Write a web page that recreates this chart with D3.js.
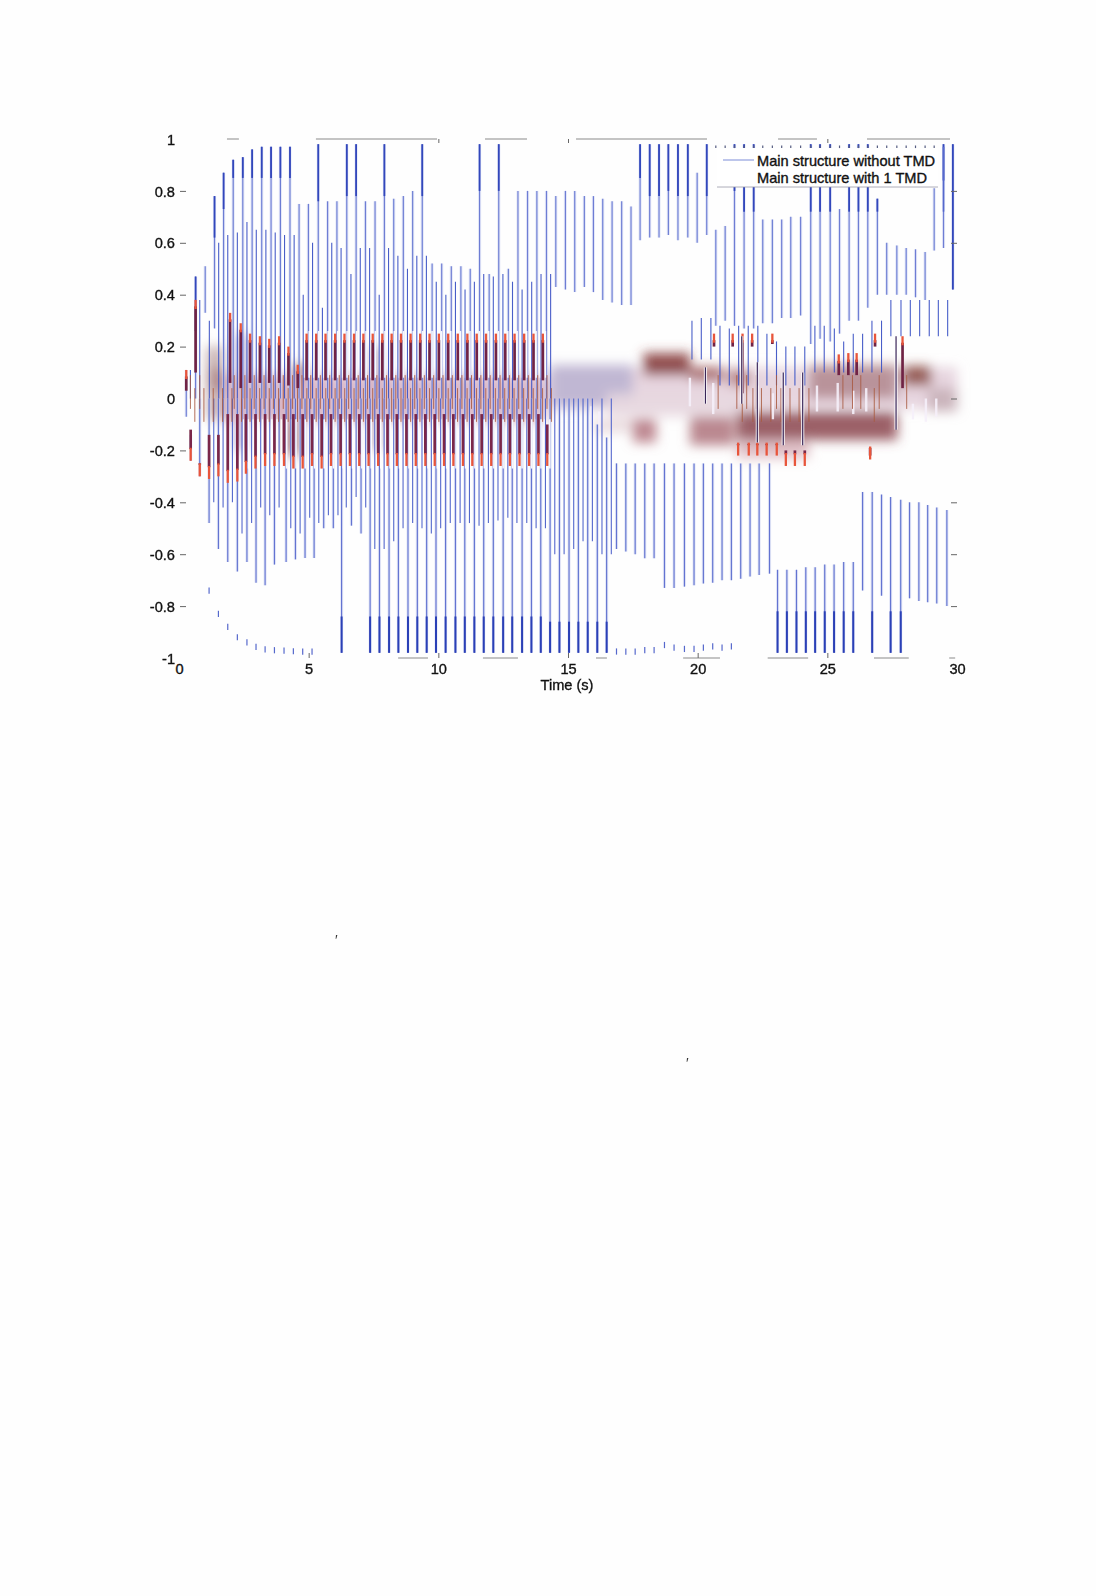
<!DOCTYPE html>
<html><head><meta charset="utf-8">
<script src="https://d3js.org/d3.v7.min.js"></script>
<style>html,body{margin:0;padding:0;background:#fefefe}svg{display:block}</style>
</head><body><svg id="c" width="1096" height="1596"></svg>
<script>
const peakTimes=[.28,.64,1.01,1.37,1.72,2.09,2.46,2.82,3.19,3.55,3.91,4.28,
4.63,4.99,5.37,5.73,6.09,6.47,6.83,7.19,7.56,7.92,8.28,8.65,9.01,9.38,
9.76,10.13,10.5,10.87,11.23,11.59,11.96,12.33,12.7,13.07,13.44,13.8,14.17,
14.53,14.9,15.26,15.63,15.98,16.34,16.7,17.07,17.43,
17.78,18.15,18.51,18.87,19.24,19.62,19.98,20.35,
20.7,21.06,21.42,21.79,22.16,
22.51,22.88,23.24,23.59,23.97,
24.36,24.72,25.11,25.47,25.84,26.2,26.56,26.93,
27.29,27.68,28.04,28.4,28.77,
29.12,29.48,29.84];
const peakHi=[.11,.47,.51,.78,.87,.92,.93,.96,.97,.97,.97,.97,
.75,.75,.98,.76,.76,.98,.98,.76,.76,.98,.77,.78,.8,.98,
.52,.52,.51,.51,.5,.98,.48,.98,.5,.8,.8,.8,.8,
.78,.8,.8,.78,.78,.77,.76,.76,.74,
.98,.98,.98,.98,.98,.98,.87,.98,
.65,.665,.98,.98,.98,
.69,.69,.69,.7,.7,
.98,.98,.98,.73,.98,.98,.98,.77,
.6,.59,.58,.575,.565,
.81,.98,.98];
const peakLo=[-.07,0,.33,.27,0,0,0,0,0,0,0,0,
0,0,0,0,0,0,0,0,0,0,0,0,0,0,
0,0,0,0,0,0,0,0,0,0,0,0,0,
.43,.42,.41,.43,.41,.38,.37,.36,.36,
.61,.62,.62,.63,.61,.62,.6,.63,
.28,.3,.28,.27,.27,
.29,.29,.31,.31,.32,
.21,.23,.22,.25,.3,.3,.35,.4,
.4,.4,.4,.39,.38,
.57,.58,.42];
const peakDark=[null,.26,null,.62,.73,.85,.85,.85,.85,.85,.85,.85,
null,null,.76,null,null,.78,.78,null,null,.78,null,null,null,.78,
null,null,null,null,null,.8,null,.8,null,null,null,null,null,
null,null,null,null,null,null,null,null,null,
.85,.78,.78,.8,.78,.78,null,.78,
null,null,.8,.72,.72,
null,null,null,null,null,
.72,.72,.72,null,.72,.72,.72,.72,
null,null,null,null,null,
null,.84,.42];
const innerHi=[.11,.38,.3,.6,.63,.64,.68,.65,.65,.64,.63,.63,
.4,.6,.35,.6,.58,.48,.58,.58,.4,.58,.55,.5,.55,.55,
.45,.4,.45,.42,.45,.48,.47,.48,.45,.42,.45,.48,.48,
null,null,null,null,null,null,null,null,null,
null,null,null,null,null,.3,.31,.31,
.28,.27,.28,.28,.28,
.25,.22,.2,.2,.2,
.28,.28,.27,.22,.25,.25,.3,.3,
.38,.38,.38,.38,.38,
.38,.38,null];
const innerLo=[0,0,0,0,0,0,0,0,0,0,0,0,
0,0,0,0,0,0,0,0,0,0,0,0,0,0,
0,0,0,0,0,0,0,0,0,0,0,0,0,
null,null,null,null,null,null,null,null,null,
null,null,null,null,null,.15,.15,.15,
.05,.05,.05,.05,.05,
.05,.05,.05,.05,.05,
.1,.1,.1,.1,.1,.1,.1,.1,
.24,.24,.24,.24,.24,
.24,.24,null];
const troughTimes=[.45,.8,
1.16,1.52,1.88,2.25,2.62,2.97,3.32,3.68,4.13,4.49,4.86,5.21,5.58,5.95,
6.27,6.65,7.02,7.37,7.73,8.1,8.46,8.83,9.19,9.55,9.91,10.28,10.66,11.02,11.39,11.75,12.12,12.5,12.85,13.23,13.59,13.95,
14.31,14.67,15.04,15.4,15.76,16.13,16.49,
16.87,17.23,17.59,17.96,18.32,
18.72,19.09,19.49,19.86,20.22,20.58,20.94,21.3,21.66,22.02,22.37,22.77,
23.08,
23.44,23.81,24.17,24.53,24.9,25.26,25.63,26,
26.36,26.73,27.09,27.44,27.83,28.17,28.53,28.87,29.22,29.61];
const troughLo=[-.24,-.3,
-.48,-.58,-.63,-.667,-.63,-.71,-.72,-.64,-.63,-.62,-.615,-.615,-.5,-.5,
-.98,-.49,-.52,-.98,-.98,-.98,-.98,-.98,-.98,-.98,-.98,-.98,-.98,-.98,-.98,-.98,-.98,-.98,-.98,-.98,-.98,-.98,
-.98,-.98,-.98,-.98,-.98,-.98,-.98,
-.58,-.59,-.6,-.616,-.616,
-.73,-.73,-.725,-.72,-.713,-.71,-.7,-.7,-.695,-.686,-.68,-.675,
-.98,
-.98,-.98,-.98,-.98,-.98,-.98,-.98,-.98,
-.74,-.98,-.76,-.98,-.98,-.77,-.78,-.785,-.79,-.8];
const troughHi=[-.14,0,
0,0,0,0,0,0,0,0,0,0,0,0,0,0,
0,0,0,0,0,0,0,0,0,0,0,0,0,0,0,0,0,0,0,0,0,0,
0,0,0,0,0,-.1,-.15,
-.25,-.25,-.25,-.25,-.25,
-.25,-.25,-.25,-.25,-.25,-.25,-.25,-.25,-.25,-.25,-.25,-.25,
-.66,
-.66,-.66,-.65,-.65,-.64,-.64,-.63,-.63,
-.36,-.36,-.37,-.38,-.39,-.4,-.4,-.41,-.42,-.43];
const troughDark=[null,null,
null,null,null,null,null,null,null,null,null,null,null,null,null,null,
-.84,null,null,-.84,-.84,-.84,-.84,-.84,-.84,-.84,-.84,-.84,-.84,-.84,-.84,-.84,-.84,-.84,-.84,-.84,-.84,-.84,
-.86,-.86,-.86,-.86,-.86,-.86,-.86,
null,null,null,null,null,
null,null,null,null,null,null,null,null,null,null,null,null,
-.82,
-.82,-.82,-.82,-.82,-.82,-.82,-.82,-.82,
null,-.82,null,-.82,-.82,null,null,null,null,null];
const troughInner=[null,null,
-.4,-.42,-.4,-.52,-.48,-.42,-.45,-.42,-.5,-.52,-.46,-.48,-.45,-.45,
-.42,-.38,-.42,-.58,-.58,-.55,-.5,-.48,-.5,-.52,-.5,-.48,-.48,-.48,-.49,-.48,-.47,-.46,-.48,-.48,-.5,-.5,
-.6,-.6,-.58,-.55,-.55,-.6,-.6,
null,null,null,null,null,
null,null,null,null,null,null,null,null,null,null,null,null,
null,
null,null,null,null,null,null,null,null,
null,null,null,null,null,null,null,null,null,null];
const tickDotTimes=[1.16,1.52,1.88,2.25,2.62,2.97,3.32,3.68,4.05,4.41,4.77,5.13,
16.87,17.23,17.59,17.96,18.32,18.72,19.09,19.49,19.86,20.22,20.58,20.94,21.3];
const tickDotValues=[-.74,-.83,-.88,-.92,-.94,-.957,-.967,-.97,-.972,-.974,-.975,-.975,
-.975,-.975,-.975,-.97,-.97,-.95,-.96,-.965,-.965,-.96,-.955,-.96,-.955];
const topDotTimes=[20.7,21.06,21.42,21.79,22.16,22.51,22.88,23.24,23.59,23.97,24.36,24.72,25.11,25.47,25.84,26.2,26.56,26.93,27.29,27.68,28.04,28.4,28.77,29.12];
const redPeakTimes=[.28,.64,1.97,2.38,2.74,3.12,3.48,3.86,4.22,4.58,
4.92,5.29,5.65,6.02,6.38,6.75,7.11,7.47,7.84,8.2,8.56,8.93,9.3,9.66,10.02,10.38,10.75,11.12,11.48,11.84,12.22,12.58,12.94,13.31,13.67,14.03,
20.63,21.35,21.73,22.1,22.88,25.44,25.81,26.13,26.84,27.9];
const redPeakHi=[.11,.38,.33,.29,.25,.24,.23,.24,.2,.13,
.25,.25,.25,.25,.25,.25,.25,.25,.25,.25,.25,.25,.25,.25,.25,.25,.25,.25,.25,.25,.25,.25,.25,.25,.25,.25,
.25,.25,.25,.25,.25,.17,.175,.175,.25,.24];
const redPeakBarEnd=[.03,.1,.06,.04,.06,.06,.06,.06,.05,.04,
.07,.07,.07,.07,.07,.07,.07,.07,.07,.07,.07,.07,.07,.07,.07,.07,.07,.07,.07,.07,.07,.07,.07,.07,.07,.07,
.2,.2,.02,.2,.21,.09,.09,.09,.2,.04];
const redTroughTimes=[.45,.8,1.16,1.52,1.88,2.25,2.58,2.95,3.32,3.68,4.05,4.41,4.77,5.13,5.5,5.86,6.23,6.59,6.95,7.31,7.68,8.04,8.4,8.77,9.13,9.5,9.86,10.22,10.58,10.95,11.31,11.67,12.04,12.4,12.76,13.13,13.5,13.86,14.2,
21.56,21.97,22.3,22.66,23.05,23.4,23.75,24.13,26.65];
const redTroughLo=[-.24,-.3,-.31,-.3,-.325,-.32,-.29,-.27,-.26,-.26,-.26,-.27,-.27,-.26,-.27,-.26,-.26,-.26,-.26,-.26,-.26,-.26,-.26,-.26,-.26,-.26,-.26,-.26,-.26,-.26,-.26,-.26,-.26,-.26,-.26,-.26,-.26,-.26,-.26,
-.22,-.22,-.22,-.22,-.22,-.26,-.26,-.26,-.235];
const redTroughBarEnd=[-.12,-.25,-.14,-.14,-.06,-.06,-.06,-.06,-.06,-.06,-.06,-.06,-.06,-.06,-.06,-.06,-.06,-.06,-.06,-.06,-.06,-.06,-.06,-.06,-.06,-.06,-.06,-.06,-.06,-.06,-.06,-.06,-.06,-.06,-.06,-.06,-.06,-.06,-.1,
-.18,-.18,-.18,-.18,-.18,-.2,-.2,-.2,-.22];
const midLineTimes=[20.3,21.7,22.3,23.3,24.05,27.65];
const midLineHi=[.12,.24,.14,.1,.1,.24];
const midLineLo=[-.02,-.02,-.17,-.18,-.18,-.12];
const paleTimes=[15.9,16.2,19.7,20.6,22.9,24.6,25.4,26,26.5,28.3,28.8,29.2];
const paleHi=[-.03,-.05,.08,.06,.02,.05,.06,.03,.04,-.02,.0,.0];
const paleLo=[-.1,-.12,-.03,-.06,-.08,-.05,-.05,-.06,-.05,-.08,-.09,-.07];
// t0, t1, v-top, v-bottom, colour
const patches=[
[14.3,30,.12,-.04,"#e4d0dc"],
[14.3,17.5,.13,-.03,"#bdb4d2"],
[16.5,22,.02,-.07,"#e8d8e0"],
[17.9,19.7,.175,.09,"#863c3c"],
[19.7,21,.12,.07,"#a35f5f"],
[21.2,22,.11,.05,"#b07878"],
[24.3,27.7,.13,0,"#b58c92"],
[27.9,29,.125,.05,"#8f5048"],
[28.9,30,.04,-.05,"#c8b0b8"],
[16,18.4,-.08,-.13,"#e8d8dc"],
[17.5,18.4,-.08,-.17,"#b98088"],
[19.7,21.4,-.07,-.18,"#b47c84"],
[21.5,24.3,-.16,-.23,"#dcb8c0"],
[21.5,27.7,-.05,-.16,"#915058"],
[1.07,1.71,.2,-.08,"#c4acac"],
[1.2,1.7,.12,.03,"#a88080"],
[2.2,2.6,.25,-.2,"#a8a0cc"],
[4.4,4.9,.13,.04,"#8f5a50"],
[4,4.7,.03,-.22,"#b08a90"],
[7.4,7.8,.2,-.2,"#bca8b8"],
[1.7,14.2,.09,-.09,"#d8b4c4"]];
const frameTop=[[1.85,2.31],[5.28,9.95],[11.8,13.42],[15.31,20.36],[23.1,24.6],[26.53,29.73]];
const frameBottom=[[8.45,9.6],[11.72,13.07],[16.08,16.5],[19.44,20.86],[22.7,24.26],[26.8,28.14],[29.7,29.93]];
const xTicks=[0,5,10,15,20,25,30];
const yTicks=[-1,-.8,-.6,-.4,-.2,0,.2,.4,.6,.8,1];
const rightTicks=[.8,.6,0,-.4,-.6,-.8];
const topTicks=[10,15,25];
const legendLabels=["Main structure without TMD","Main structure with 1 TMD"];
const specks=[[335,945],[686,1068]];

const x=d3.scaleLinear().domain([0,30]).range([179,957]);
const y=d3.scaleLinear().domain([-1,1]).range([658,139]);
const svg=d3.select("#c");
const defs=svg.append("defs");
defs.append("filter").attr("id","soft").attr("x","-5%").attr("y","-5%").attr("width","110%").attr("height","110%")
 .append("feGaussianBlur").attr("stdDeviation",.45);
defs.append("filter").attr("id","smear").attr("x","-30%").attr("y","-60%").attr("width","160%").attr("height","220%")
 .append("feGaussianBlur").attr("stdDeviation",6);

const font="'Liberation Sans',Arial,sans-serif";
const textSize=14.6;
const gp=svg.append("g").attr("filter","url(#smear)");
gp.selectAll("rect").data(patches).join("rect")
 .attr("x",d=>x(d[0])).attr("width",d=>x(d[1])-x(d[0]))
 .attr("y",d=>y(d[2])).attr("height",d=>y(d[3])-y(d[2])).attr("fill",d=>d[4]).attr("opacity",.9);

const g=svg.append("g").attr("filter","url(#soft)");
function seg(data,cls,color,w,op,t,v0,v1){
 g.append("g").attr("class",cls).selectAll("line").data(data.filter(d=>v0(d)!=null&&v1(d)!=null)).join("line")
  .attr("x1",t).attr("x2",t).attr("y1",d=>y(v0(d))).attr("y2",d=>y(v1(d)))
  .attr("stroke",color).attr("stroke-width",w).attr("opacity",op);
}
const P=peakTimes.map((t,i)=>({t,hi:peakHi[i],lo:peakLo[i],dk:peakDark[i],ih:innerHi[i],il:innerLo[i]}));
const T=troughTimes.map((t,i)=>({t,hi:troughHi[i],lo:troughLo[i],dk:troughDark[i],inner:troughInner[i]}));
const RP=redPeakTimes.map((t,i)=>({t,hi:redPeakHi[i],end:redPeakBarEnd[i]}));
const RT=redTroughTimes.map((t,i)=>({t,lo:redTroughLo[i],end:redTroughBarEnd[i]}));
const ML=midLineTimes.map((t,i)=>({t,hi:midLineHi[i],lo:midLineLo[i]}));
const PL=paleTimes.map((t,i)=>({t,hi:paleHi[i],lo:paleLo[i]}));
seg(PL,"pale","#f6f0fa",2.4,.9,d=>x(d.t),d=>d.hi,d=>d.lo);
seg(P,"blue-up-halo","#c6cdf0",3.2,.42,d=>x(d.t),d=>d.lo,d=>d.hi);
seg(T,"blue-down-halo","#c6cdf0",3.2,.42,d=>x(d.t),d=>d.hi,d=>d.lo);
seg(P,"blue-up","#6173d0",1.2,.9,d=>x(d.t),d=>d.lo,d=>d.hi);
seg(P,"blue-up-dark","#3347bb",1.8,1,d=>x(d.t),d=>d.dk,d=>d.hi);
seg(T,"blue-down","#5568cc",1.2,.9,d=>x(d.t),d=>d.hi,d=>d.lo);
seg(T,"blue-down-dark","#2b3fb6",2,1,d=>x(d.t),d=>d.dk,d=>d.lo);
seg(RP.slice(10,36),"gap-up-a","#fff",1.5,.95,d=>x(d.t+.1),d=>.08,d=>.26);
seg(RP.slice(10,36),"gap-up-b","#fff",1.5,.95,d=>x(d.t-.1),d=>.08,d=>.26);
seg(RT.slice(6,39),"gap-down-a","#fff",1.5,.95,d=>x(d.t+.1),d=>-.08,d=>-.27);
seg(RT.slice(6,39),"gap-down-b","#fff",1.5,.95,d=>x(d.t-.1),d=>-.08,d=>-.27);
seg(P,"blue-up-inner","#3f55c6",1.1,.95,d=>x(d.t+.16),d=>d.il,d=>d.ih);
seg(T,"blue-down-inner","#4a5fca",1.1,.95,d=>x(d.t+.18),d=>0,d=>d.inner);

seg(RP,"red-up-thin","#a85a40",1,.85,d=>x(d.t+.16),d=>-.04,d=>Math.min(d.hi,.09));
seg(RP,"red-up","#6f2444",2.7,1,d=>x(d.t),d=>d.end,d=>d.hi-.025);
seg(RP,"red-up-tip","#e8553a",2.3,1,d=>x(d.t),d=>d.hi-.035,d=>d.hi);
seg(RT,"red-down-thin","#a85a40",1,.85,d=>x(d.t+.16),d=>.04,d=>Math.max(d.lo,-.09));
seg(RT,"red-down","#7a2848",2.7,1,d=>x(d.t),d=>d.end,d=>d.lo+.045);
seg(RT,"red-down-tip","#e8553a",2.3,1,d=>x(d.t),d=>d.lo+.05,d=>d.lo);
seg(ML,"mid-halo","#fff",3.2,.85,d=>x(d.t),d=>d.lo,d=>d.hi);
seg(ML,"mid-line","#3a2658",1.2,1,d=>x(d.t),d=>d.lo,d=>d.hi);

g.append("g").selectAll("line").data(tickDotTimes).join("line")
 .attr("x1",d=>x(d)).attr("x2",d=>x(d))
 .attr("y1",(d,i)=>y(tickDotValues[i]+.012)).attr("y2",(d,i)=>y(tickDotValues[i]-.012))
 .attr("stroke","#5568cc").attr("stroke-width",1.2);

const textStyle=s=>s.attr("font-family",font).attr("font-size",textSize).attr("fill","#111").attr("stroke","#111").attr("stroke-width",.35);
// legend
const lg=svg.append("g");
lg.append("rect").attr("x",717).attr("y",148).attr("width",221).attr("height",39).attr("fill","#fff");
lg.append("line").attr("x1",717).attr("x2",938).attr("y1",187).attr("y2",187).attr("stroke","#9a9aa8").attr("stroke-width",.8);
lg.append("line").attr("x1",723).attr("x2",754).attr("y1",160).attr("y2",160).attr("stroke","#7d8dd8").attr("stroke-width",1);
lg.selectAll("text").data(legendLabels).join("text")
 .attr("x",757).attr("y",(d,i)=>165.5+i*17).text(d=>d).call(textStyle);
svg.append("g").selectAll("line").data(topDotTimes).join("line")
 .attr("x1",d=>x(d)).attr("x2",d=>x(d)).attr("y1",y(.975)).attr("y2",y(.965)).attr("stroke","#555c80").attr("stroke-width",1.2);
svg.append("line").attr("x1",x(29.48)).attr("x2",x(29.48)).attr("y1",y(.97)).attr("y2",y(.72)).attr("stroke","#5568cc").attr("stroke-width",1.6);

// frame fragments
const fr=svg.append("g").attr("stroke","#8a8a8a").attr("stroke-width",1);
fr.selectAll(".t").data(frameTop).join("line").attr("class","t").attr("x1",d=>x(d[0])).attr("x2",d=>x(d[1])).attr("y1",y(1)).attr("y2",y(1));
fr.selectAll(".b").data(frameBottom).join("line").attr("class","b").attr("x1",d=>x(d[0])).attr("x2",d=>x(d[1])).attr("y1",y(-1)).attr("y2",y(-1));

// axes
function style(a){
 a.select(".domain").remove();
 a.selectAll("line").attr("stroke","#666").attr("stroke-width",1);
 a.selectAll("text").call(textStyle);
}
const ax=svg.append("g").attr("transform",`translate(0,${y(-1)})`)
 .call(d3.axisBottom(x).tickValues(xTicks).tickSize(-5).tickPadding(6).tickFormat(d=>String(d))).call(style);
ax.selectAll(".tick").filter(d=>d===0||d===30).select("line").remove();
const ay=svg.append("g").attr("transform",`translate(180,0)`)
 .call(d3.axisLeft(y).tickValues(yTicks).tickSize(-6).tickPadding(5).tickFormat(d=>String(d))).call(style);
ay.selectAll(".tick").filter(d=>d===1||d===-1||d===0).select("line").remove();
ay.selectAll(".tick text").attr("dy","0.35em");
svg.append("g").attr("transform",`translate(957,0)`)
 .call(d3.axisRight(y).tickValues(rightTicks).tickSize(-6).tickFormat(()=>"")).call(style);
svg.append("g").attr("transform",`translate(0,${y(1)})`)
 .call(d3.axisTop(x).tickValues(topTicks).tickSize(-4).tickFormat(()=>"")).call(style);

svg.append("text").attr("x",567).attr("y",689.5).attr("text-anchor","middle").text("Time (s)").call(textStyle);

svg.append("g").selectAll("text").data(specks).join("text")
 .attr("x",d=>d[0]).attr("y",d=>d[1]).text("′").attr("font-family",font).attr("font-size",14).attr("fill","#333");
</script></body></html>
